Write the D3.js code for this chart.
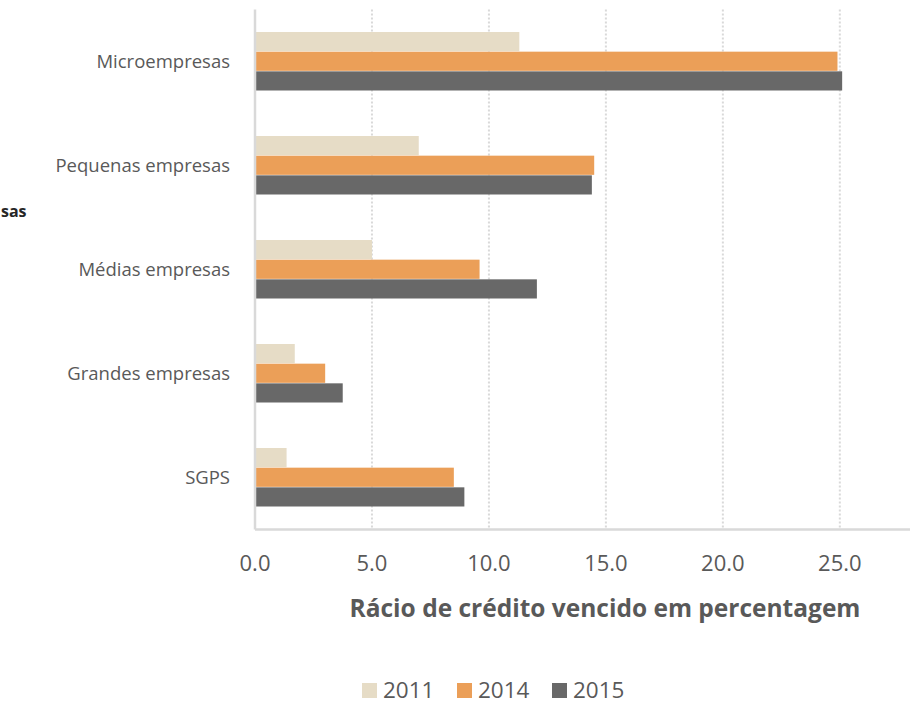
<!DOCTYPE html>
<html>
<head>
<meta charset="utf-8">
<script src="https://cdn.jsdelivr.net/npm/d3@7"></script>
<style>
  body { margin: 0; background: #fff; }
  text { font-family: "Open Sans", sans-serif; }
</style>
</head>
<body>
<svg id="chart" width="915" height="728"></svg>
<script>
// data
var categories = ["Microempresas", "Pequenas empresas", "Médias empresas", "Grandes empresas", "SGPS"];
var years = ["2011", "2014", "2015"];
var values2011 = [11.3, 7.0, 5.0, 1.7, 1.35];
var values2014 = [24.9, 14.5, 9.6, 3.0, 8.5];
var values2015 = [25.1, 14.4, 12.05, 3.75, 8.95];
var xTicks = [0, 5, 10, 15, 20, 25];
var colors = ["#e6dcc6", "#eb9f58", "#686868"];

var series = [values2011, values2014, values2015];
var rows = categories.map(function(c, i) {
    return {cat: c, vals: series.map(function(s) { return s[i]; })};
});

var svg = d3.select("#chart"),
    margin = {top: 9.5, right: 5, bottom: 198.5, left: 255},
    width = +svg.attr("width") - margin.left - margin.right,
    height = +svg.attr("height") - margin.top - margin.bottom;

var x = d3.scaleLinear().domain([0, 28]).range([0, 655]);
var y = d3.scaleBand().domain(categories).range([0, height]).paddingInner(45 / 104).paddingOuter(22.5 / 104);
var yInner = d3.scaleBand().domain(years).range([0, y.bandwidth()]);

var g = svg.append("g")
    .attr("transform", "translate(" + margin.left + "," + margin.top + ")");

// gridlines
g.append("g")
    .selectAll("line")
    .data(xTicks.slice(1))
    .enter().append("line")
    .attr("x1", function(d) { return x(d); })
    .attr("x2", function(d) { return x(d); })
    .attr("y1", 0)
    .attr("y2", height)
    .style("stroke", "#d9d9d9")
    .style("stroke-width", 2)
    .style("stroke-dasharray", "2,2");

// bars
var grp = g.selectAll(".grp")
    .data(rows)
    .enter().append("g")
    .attr("class", "grp")
    .attr("transform", function(d) { return "translate(0," + y(d.cat) + ")"; });

grp.selectAll("rect")
    .data(function(d) { return d.vals.map(function(v, i) { return {year: years[i], v: v, i: i}; }); })
    .enter().append("rect")
    .attr("x", 0)
    .attr("y", function(d) { return yInner(d.year); })
    .attr("width", function(d) { return x(d.v); })
    .attr("height", yInner.bandwidth() - 0.5)
    .style("fill", function(d) { return colors[d.i]; });

// axes lines
g.append("line")
    .attr("x1", 0).attr("x2", 0).attr("y1", 0).attr("y2", height)
    .style("stroke", "#d9d9d9").style("stroke-width", 2.5);
g.append("line")
    .attr("x1", 0).attr("x2", x(28)).attr("y1", height).attr("y2", height)
    .style("stroke", "#d9d9d9").style("stroke-width", 2.5);

// category labels
g.append("g")
    .selectAll("text")
    .data(categories)
    .enter().append("text")
    .attr("x", -25)
    .attr("y", function(d) { return y(d) + y.bandwidth() / 2; })
    .attr("dy", "0.35em")
    .style("text-anchor", "end")
    .style("font-size", "18.5px")
    .style("fill", "#595959")
    .text(function(d) { return d; });

// x tick labels
g.append("g")
    .selectAll("text")
    .data(xTicks)
    .enter().append("text")
    .attr("x", function(d) { return x(d); })
    .attr("y", height + 34)
    .attr("dy", "0.35em")
    .style("text-anchor", "middle")
    .style("font-size", "22px")
    .style("fill", "#595959")
    .text(function(d) { return d3.format(".1f")(d); });

// axis title
svg.append("text")
    .attr("x", 605)
    .attr("y", 608)
    .attr("dy", "0.35em")
    .style("text-anchor", "middle")
    .style("font-size", "24.5px")
    .style("font-weight", "bold")
    .style("fill", "#595959")
    .text("Rácio de crédito vencido em percentagem");

// clipped title fragment
svg.append("text")
    .attr("x", 1)
    .attr("y", 211)
    .attr("dy", "0.35em")
    .style("font-size", "16px")
    .style("font-weight", "bold")
    .style("fill", "#262626")
    .text("sas");

// legend
var legendX = [362, 457, 552];
var legend = svg.append("g").selectAll("g")
    .data(years)
    .enter().append("g")
    .attr("transform", function(d, i) { return "translate(" + legendX[i] + ",690)"; });
legend.append("rect")
    .attr("x", 0).attr("y", -7)
    .attr("width", 15).attr("height", 15)
    .style("fill", function(d, i) { return colors[i]; });
legend.append("text")
    .attr("x", 21)
    .attr("y", 0)
    .attr("dy", "0.35em")
    .style("font-size", "22.5px")
    .style("fill", "#595959")
    .text(function(d) { return d; });
</script>
</body>
</html>
